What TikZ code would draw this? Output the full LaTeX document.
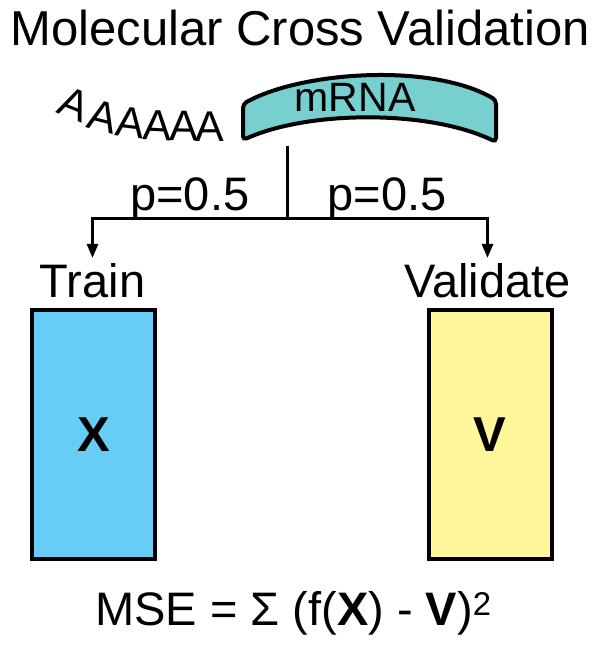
\documentclass[tikz,border=0pt]{standalone}
\usepackage{fontspec}
\setmainfont{Liberation Sans}
\usetikzlibrary{arrows.meta}
\definecolor{trainblue}{HTML}{68CDF4}
\definecolor{validyellow}{HTML}{FFF799}
\definecolor{rnateal}{HTML}{78CFD0}
\tikzset{
  lbl/.style={inner sep=0pt, anchor=base, font=\fontsize{47}{50}\selectfont},
  polya/.style={inner sep=0pt, anchor=base, font=\fontsize{43}{46}\selectfont},
  setbox/.style={draw, line width=4pt, minimum width=123pt, minimum height=249pt, inner sep=0pt, font=\fontsize{49}{50}\selectfont\bfseries},
  branch/.style={line width=3pt, -{Triangle[length=14pt,width=11pt]}},
}

\begin{document}
\begin{tikzpicture}[x=1pt, y=-1pt]
	\useasboundingbox (0,0) rectangle (595,645);
	\node[lbl, font=\fontsize{49}{50}\selectfont] (title) at (300,45) {Molecular Cross Validation};
	% poly-A tail
	\node[polya, rotate=-22] (a1) at (69,118) {A};
	\node[polya, rotate=-14] (a2) at (99,131) {A};
	\node[polya, rotate=-7] (a3) at (129,137) {A};
	\node[polya, rotate=-3] (a4) at (157,140) {A};
	\node[polya, rotate=-1] (a5) at (184,141) {A};
	\node[polya] (a6) at (210,141) {A};
	% mRNA strand
	\draw[line width=4pt, fill=rnateal, rounded corners=4pt] (243,140) -- (243,104) .. controls (300,72) and (430,62) .. (496,100) -- (496,142) .. controls (430,110) and (310,110) .. cycle;
	\node[lbl, font=\fontsize{41}{44}\selectfont] (mrna) at (355,111) {mRNA};
	\coordinate (strand) at (287,146);
	\coordinate (split) at (287,218);
	\node[lbl, outer sep=5pt] (train) at (92.5,297) {Train};
	\node[lbl, outer sep=5pt] (valid) at (487.5,297) {Validate};
	\draw[line width=3pt] (strand) -- (split);
	\draw[branch] (split) -| node[lbl, pos=0.25, yshift=8pt] (pleft) {p=0.5} (train.north);
	\draw[branch] (split) -| node[lbl, pos=0.25, yshift=8pt] (pright) {p=0.5} (valid.north);
	% sets
	\node[setbox, fill=trainblue] (xset) at (93.5,434.5) {X};
	\node[setbox, fill=validyellow] (vset) at (490,434.5) {V};
	\node[lbl, anchor=base west] (mse) at (95,625) {MSE = Σ (f(\textbf{X}) - \textbf{V})\textsuperscript{2}};
\end{tikzpicture}
\end{document}
